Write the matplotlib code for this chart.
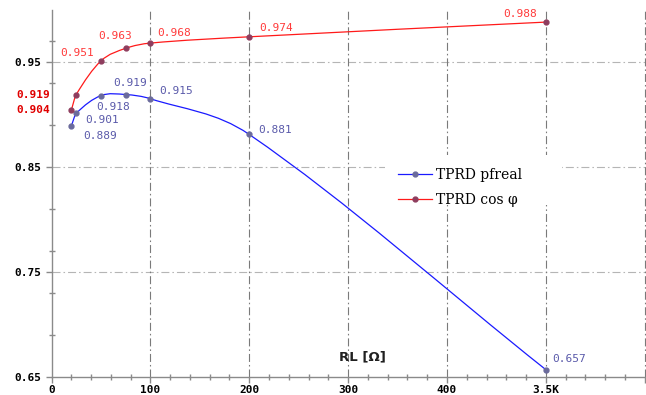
import matplotlib
matplotlib.use("Agg")
import matplotlib.pyplot as plt
from matplotlib.path import Path
from matplotlib.patches import PathPatch, Rectangle
from matplotlib.lines import Line2D
import numpy as np

# data
rl_pos = [20, 25, 50, 75, 100, 200, 500]          # 500 slot is labelled 3.5K
pfreal = [0.889, 0.901, 0.918, 0.919, 0.915, 0.881, 0.657]
cosphi = [0.904, 0.919, 0.951, 0.963, 0.968, 0.974, 0.988]
x_ticks = [0, 100, 200, 300, 400, 500, 600]
x_ticklabels = ['0', '100', '200', '300', '400', '3.5K', '']
y_ticks = [0.65, 0.75, 0.85, 0.95]

# label offsets in pixels (dx, dy) for each point
pf_offsets = [(29, -10), (26, -7), (12, -11), (4, 12), (26, 8), (26, 4), (23, 11)]
cos_offsets = [None, None, (-24, 8), (-11, 12), (24, 10), (27, 9), (-26, 8)]

MONO = 'DejaVu Sans Mono'
RED = '#ff1a1a'
BLUE = '#1a1aff'


def smooth_path(xs, ys):
    # hermite-style bezier through the points, tangents from neighbours
    xs = np.asarray(xs, float)
    ys = np.asarray(ys, float)
    n = len(xs)
    m = np.zeros(n)
    for i in range(n):
        a = max(i - 1, 0)
        b = min(i + 1, n - 1)
        m[i] = (ys[b] - ys[a]) / (xs[b] - xs[a])
    verts = [(xs[0], ys[0])]
    codes = [Path.MOVETO]
    for i in range(n - 1):
        h = xs[i + 1] - xs[i]
        verts += [(xs[i] + h / 3, ys[i] + m[i] * h / 3),
                  (xs[i + 1] - h / 3, ys[i + 1] - m[i + 1] * h / 3),
                  (xs[i + 1], ys[i + 1])]
        codes += [Path.CURVE4] * 3
    return Path(verts, codes)


fig = plt.figure(figsize=(6.46, 3.95), dpi=100)
ax = fig.add_axes([51.5 / 646, 18 / 395, 0.9995 - 51.5 / 646, 367.5 / 395])
ax.set_xlim(0, 601)
ax.set_ylim(0.65, 1.0)

for s in ['top', 'right']:
    ax.spines[s].set_visible(False)
for s in ['left', 'bottom']:
    ax.spines[s].set_color('#8a8a8a')
    ax.spines[s].set_linewidth(1.0)

# grid
dash = (0, (7.2, 2.7, 1.4, 2.7))
for yv in y_ticks[1:]:
    ax.axhline(yv, color='#b5b5b5', lw=0.8, ls=dash, zorder=1)
for xv in x_ticks[1:]:
    ax.axvline(xv, color='#7a7a7a', lw=0.8, ls=dash, zorder=1)

# ticks
ax.set_xticks(x_ticks)
ax.set_xticklabels(x_ticklabels)
ax.set_xticks(np.arange(0, 601, 20), minor=True)
ax.set_yticks(y_ticks)
ax.set_yticklabels(['%.2f' % v for v in y_ticks])
ax.set_yticks(np.arange(0.65, 1.0, 0.04), minor=True)
ax.tick_params(which='major', direction='out', length=4, width=1, color='#8a8a8a', pad=3)
ax.tick_params(which='minor', direction='inout', length=5, width=1, color='#8a8a8a')
ax.tick_params(axis='x', which='major', pad=2)
for lab in ax.get_xticklabels() + ax.get_yticklabels():
    lab.set_fontfamily(MONO)
    lab.set_fontweight('bold')
    lab.set_fontsize(8)

# curves
ax.add_patch(PathPatch(smooth_path(rl_pos, pfreal), fill=False, edgecolor=BLUE, lw=0.9, zorder=3))
ax.add_patch(PathPatch(smooth_path(rl_pos, cosphi), fill=False, edgecolor=RED, lw=0.9, zorder=3))
ax.plot(rl_pos, pfreal, 'o', color='#6b6b9c', ms=3.5, zorder=4, clip_on=False)
ax.plot(rl_pos, cosphi, 'o', color='#8e3d5e', ms=3.5, zorder=4, clip_on=False)

# value labels
for x, y, off in zip(rl_pos, pfreal, pf_offsets):
    ax.annotate('%.3f' % y, (x, y), xytext=off, textcoords='offset pixels',
                ha='center', va='center', color='#5a5aaa', fontsize=8,
                fontfamily=MONO, annotation_clip=False)
for x, y, off in zip(rl_pos, cosphi, cos_offsets):
    if off is None:
        # first two red values sit left of the y axis
        ax.annotate('%.3f' % y, (0, y), xytext=(-1, 0), textcoords='offset pixels',
                    ha='right', va='center', color='#e00000', fontsize=8,
                    fontfamily=MONO, fontweight='bold', annotation_clip=False)
    else:
        ax.annotate('%.3f' % y, (x, y), xytext=off, textcoords='offset pixels',
                    ha='center', va='center', color='#ff3a3a', fontsize=8,
                    fontfamily=MONO, annotation_clip=False)

ax.text(0.524, 0.054, 'RL [Ω]', transform=ax.transAxes, ha='center', va='center',
        fontsize=9.5, fontweight='bold', fontfamily='DejaVu Sans', color='#202020')

# white box behind the legend hides the grid there
ax.add_artist(Rectangle((385 / 646, 1 - 205 / 395), 177 / 646, 50 / 395,
                        transform=fig.transFigure, facecolor='white',
                        edgecolor='none', zorder=2))

# legend
handles = [Line2D([], [], color=BLUE, lw=0.9, marker='o', ms=3.5,
                  markerfacecolor='#6b6b9c', markeredgecolor='#6b6b9c'),
           Line2D([], [], color=RED, lw=0.9, marker='o', ms=3.5,
                  markerfacecolor='#8e3d5e', markeredgecolor='#8e3d5e')]
leg = ax.legend(handles, ['TPRD pfreal', 'TPRD cos φ'], loc='upper left',
                bbox_to_anchor=(383 / 646, 1 - 153 / 395), bbox_transform=fig.transFigure,
                frameon=False, borderpad=0.6, handlelength=2.45,
                handletextpad=0.25, labelspacing=0.77,
                prop={'family': 'DejaVu Serif', 'size': 10})
leg.set_zorder(6)

fig.savefig('out.png', dpi=100)
